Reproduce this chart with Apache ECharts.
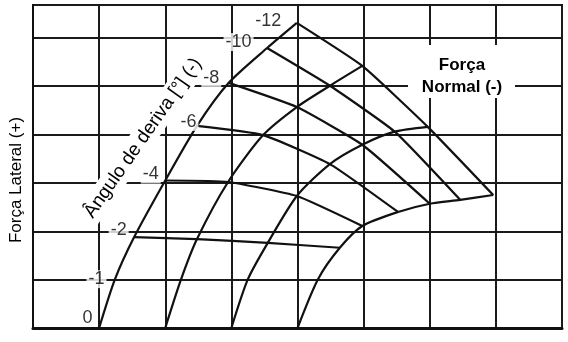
<!DOCTYPE html>
<html>
<head>
<meta charset="utf-8">
<script src="https://cdn.jsdelivr.net/npm/echarts@6/dist/echarts.min.js"></script>
<style>
  html, body { margin: 0; padding: 0; background: #fff; }
  #chart { width: 568px; height: 342px; }
</style>
</head>
<body>
<div id="chart"></div>
<script>
// Carpet plot: lateral force vs. slip angle for four normal-force levels.
// Each curve lists its nodes at the slip angles below, as [x, y] in grid units.
const slipAngles = ['0', '-1', '-2', '-4', '-6', '-8', '-10', '-12'];

const normalCurve1 = [[1.00, 0], [1.24, 1.01], [1.53, 1.88], [2.00, 3.05], [2.48, 4.18], [2.96, 5.07], [3.54, 5.79], [3.99, 6.31]];
const normalCurve2 = [[2.00, 0], [2.24, 1.01], [2.48, 1.84], [2.95, 3.02], [3.48, 3.99], [3.99, 4.57], [4.49, 5.01], [4.98, 5.42]];
const normalCurve3 = [[3.00, 0], [3.25, 1.01], [3.55, 1.76], [3.99, 2.73], [4.49, 3.39], [4.98, 3.79], [5.47, 4.06], [5.97, 4.16]];
const normalCurve4 = [[4.00, 0], [4.31, 1.01], [4.64, 1.66], [4.98, 2.11], [5.52, 2.40], [6.00, 2.57], [6.46, 2.65], [6.96, 2.75]];

// Slip-angle lines are drawn for these angle indices (-2 … -12)
const isoAngleIndices = [2, 3, 4, 5, 6, 7];

// Axis extents and grid spacing
const xMax = 8;
const yMax = 6.68;
const gridStep = 1;

// Small label shifts [dx, dy] for the slip-angle labels along the first curve
const angleLabelShift = [[0, -10], [-4, 0], [-1, -7], [0, -6], [6, -4], [-3, -5], [-9, -6], [-9, -2]];

const normalCurves = [normalCurve1, normalCurve2, normalCurve3, normalCurve4];
const ink = '#111';
const font = '"Liberation Sans", Arial, Helvetica, sans-serif';

const series = [];

normalCurves.forEach(curve => {
  series.push({
    type: 'line',
    data: curve,
    smooth: 0.25,
    symbol: 'none',
    lineStyle: { color: ink, width: 2.2 },
    silent: true,
    z: 3
  });
});

isoAngleIndices.forEach(j => {
  series.push({
    type: 'line',
    data: normalCurves.map(c => c[j]),
    smooth: 0.15,
    symbol: 'none',
    lineStyle: { color: ink, width: 2.2 },
    silent: true,
    z: 2
  });
});

// Slip-angle values written next to the nodes of the first curve
series.push({
  type: 'scatter',
  data: normalCurve1,
  symbolSize: 1,
  itemStyle: { color: 'rgba(0,0,0,0)' },
  silent: true,
  z: 5,
  label: {
    show: true,
    position: 'left',
    distance: 4,
    color: '#000',
    fontFamily: font,
    fontSize: 18,
    backgroundColor: '#fff',
    padding: [0, 2],
    formatter: p => slipAngles[p.dataIndex]
  },
  labelLayout: p => ({ dx: angleLabelShift[p.dataIndex][0], dy: angleLabelShift[p.dataIndex][1] })
});

const chart = echarts.init(document.getElementById('chart'), null, { renderer: 'canvas' });

chart.setOption({
  animation: false,
  backgroundColor: '#fff',
  grid: {
    left: 33, right: 6, top: 5, bottom: 14,
    show: true, borderColor: '#1a1a1a', borderWidth: 2
  },
  xAxis: {
    type: 'value', min: 0, max: xMax, interval: gridStep,
    axisLabel: { show: false }, axisTick: { show: false },
    axisLine: { show: true, lineStyle: { color: '#111', width: 3 } },
    splitLine: { show: true, lineStyle: { color: '#1a1a1a', width: 2 } }
  },
  yAxis: {
    type: 'value', min: 0, max: yMax, interval: gridStep,
    axisLabel: { show: false }, axisTick: { show: false },
    axisLine: { show: true, lineStyle: { color: '#111', width: 2 } },
    splitLine: { show: true, lineStyle: { color: '#1a1a1a', width: 2 } }
  },
  series: series,
  graphic: [
    {
      type: 'text', x: 16, y: 180, rotation: Math.PI / 2, z: 10,
      style: {
        text: 'Força Lateral (+)', font: '17px ' + font, fill: '#000',
        align: 'center', verticalAlign: 'middle'
      }
    },
    {
      type: 'text', x: 143, y: 138, rotation: 55 * Math.PI / 180, z: 10,
      style: {
        text: 'Ângulo de deriva [°] (-)', font: '19px ' + font, fill: '#000',
        align: 'center', verticalAlign: 'middle',
        backgroundColor: '#fff', padding: [3, 2]
      }
    },
    {
      type: 'rect', z: 10,
      shape: { x: 408, y: 45, width: 107, height: 53 },
      style: { fill: '#fff' }
    },
    {
      type: 'text', x: 462, y: 65, z: 11,
      style: {
        text: 'Força', font: 'bold 17px ' + font, fill: '#000',
        align: 'center', verticalAlign: 'middle'
      }
    },
    {
      type: 'text', x: 462, y: 87, z: 11,
      style: {
        text: 'Normal (-)', font: 'bold 17px ' + font, fill: '#000',
        align: 'center', verticalAlign: 'middle'
      }
    }
  ]
});
</script>
</body>
</html>
